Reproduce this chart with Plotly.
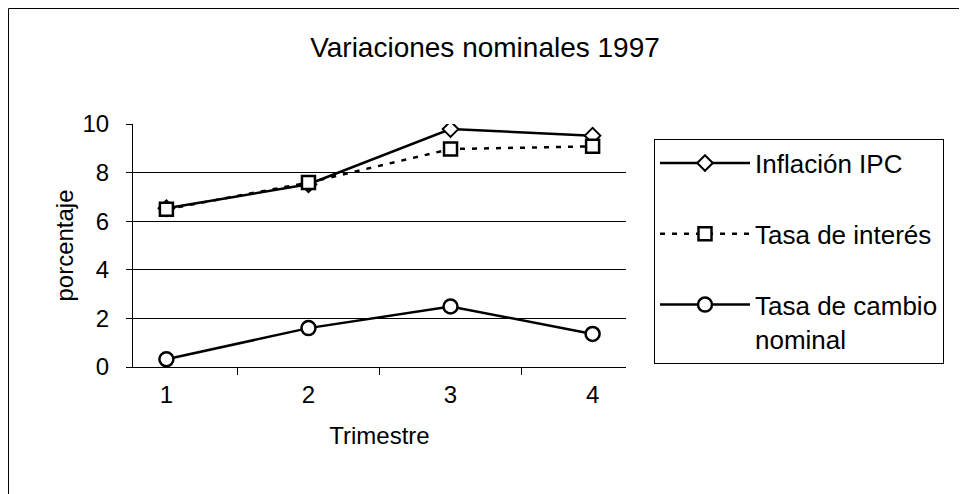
import plotly.graph_objects as go

trimestres = ["1", "2", "3", "4"]
inflacion_ipc = [6.53, 7.52, 9.79, 9.52]
tasa_interes = [6.49, 7.59, 8.97, 9.08]
tasa_cambio = [0.32, 1.60, 2.49, 1.36]

y_ticks = [0, 2, 4, 6, 8, 10]

FONT = "Liberation Sans, Arial, sans-serif"

fig = go.Figure()

fig.add_trace(go.Scatter(
    x=trimestres, y=inflacion_ipc, name="Inflación IPC", mode="lines+markers",
    legendgroup="a",
    line=dict(color="black", width=2.5),
    marker=dict(symbol="diamond", size=12, color="white", line=dict(color="black", width=2)),
))
fig.add_trace(go.Scatter(
    x=trimestres, y=tasa_interes, name="Tasa de interés", mode="lines+markers",
    legendgroup="b",
    line=dict(color="black", width=2.5, dash="5px,7px"),
    marker=dict(symbol="square", size=13, color="white", line=dict(color="black", width=2.5)),
))
fig.add_trace(go.Scatter(
    x=trimestres, y=tasa_cambio, name="Tasa de cambio<br>nominal", mode="lines+markers",
    legendgroup="c",
    line=dict(color="black", width=2.5),
    marker=dict(symbol="circle", size=14, color="white", line=dict(color="black", width=2.5)),
))

fig.update_layout(
    width=959, height=486,
    margin=dict(l=125, r=341, t=116, b=127),
    paper_bgcolor="white", plot_bgcolor="white",
    font=dict(family=FONT, color="black", size=24),
    title=dict(text="Variaciones nominales 1997", xref="container", x=477 / 959, xanchor="center",
               yref="container", y=1 - 39 / 486, yanchor="middle", font=dict(size=28)),
    showlegend=True,
    legend=dict(x=1.0568, xanchor="left", y=0.94, yanchor="top", valign="top",
                bordercolor="black", borderwidth=1, bgcolor="white",
                font=dict(size=26), tracegroupgap=34, itemwidth=90),
    xaxis=dict(type="category", tickson="boundaries", ticks="outside", ticklen=7,
               tickcolor="black", showline=True, linecolor="black", linewidth=1,
               showgrid=False, zeroline=False, tickfont=dict(size=24),
               ticklabelstandoff=6,
               title=dict(text="Trimestre", font=dict(size=24), standoff=20)),
    yaxis=dict(range=[0, 10], tickvals=y_ticks, ticks="outside", ticklen=6,
               tickcolor="black", showline=True, linecolor="black", linewidth=1,
               showgrid=True, gridcolor="black", gridwidth=1, zeroline=False,
               tickfont=dict(size=24), ticklabelstandoff=12,
               title=dict(text="porcentaje", font=dict(size=24), standoff=2)),
    shapes=[
        dict(type="line", xref="paper", yref="paper", x0=-0.2525, x1=2.0, y0=1.4753, y1=1.4753,
             line=dict(color="black", width=1)),
        dict(type="line", xref="paper", yref="paper", x0=-0.2525, x1=-0.2525, y0=1.4753, y1=-2.0,
             line=dict(color="black", width=1)),
    ],
)

fig.write_html("out.html")
